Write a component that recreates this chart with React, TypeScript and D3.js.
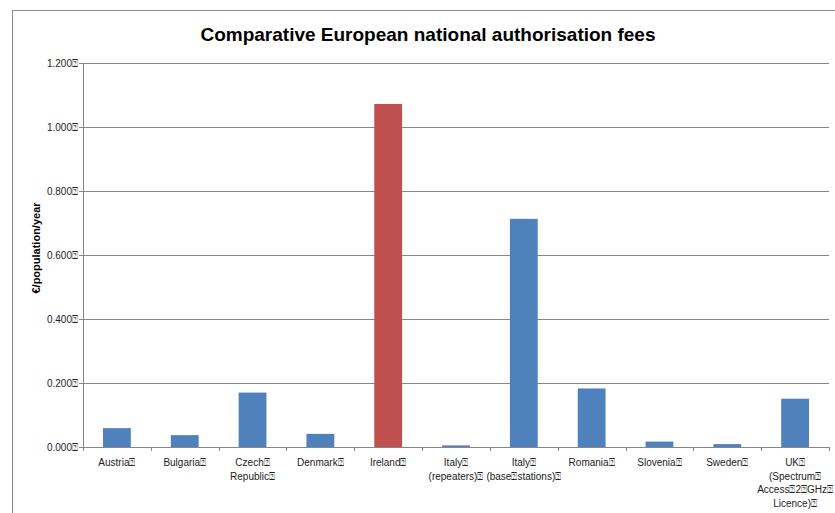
import React from "react";
import * as d3 from "d3";

const TOFU = "\u2370";

const categories: string[][] = [
  ["Austria" + TOFU],
  ["Bulgaria" + TOFU],
  ["Czech" + TOFU, "Republic" + TOFU],
  ["Denmark" + TOFU],
  ["Ireland" + TOFU],
  ["Italy" + TOFU, "(repeaters)" + TOFU],
  ["Italy" + TOFU, "(base" + TOFU + "stations)" + TOFU],
  ["Romania" + TOFU],
  ["Slovenia" + TOFU],
  ["Sweden" + TOFU],
  ["UK" + TOFU, "(Spectrum" + TOFU, "Access" + TOFU + "2" + TOFU + "GHz" + TOFU, "Licence)" + TOFU],
];
const values: number[] = [0.059, 0.037, 0.17, 0.041, 1.072, 0.005, 0.713, 0.183, 0.017, 0.009, 0.151];
const highlighted: boolean[] = [false, false, false, false, true, false, false, false, false, false, false];
const yTicks: number[] = [0, 0.2, 0.4, 0.6, 0.8, 1.0, 1.2];
const title = "Comparative European national authorisation fees";
const yTitle = "€/population/year";

const W = 835;
const H = 513;
const plot = { left: 83, right: 829, top: 63, bottom: 447 };

export default function App() {
  const keys = categories.map((_, i) => String(i));
  const x = d3.scaleBand<string>().domain(keys).range([plot.left, plot.right]).paddingInner(0.59).paddingOuter(0.295);
  const xb = d3.scaleBand<string>().domain(keys).range([plot.left, plot.right]);
  const y = d3.scaleLinear().domain([0, 1.2]).range([plot.bottom, plot.top]);
  const grid = "#878787";
  const font = "'Liberation Sans', Arial, sans-serif";
  const boundaries = d3.range(categories.length + 1).map((i) => plot.left + i * xb.step());

  return (
    <div style={{ position: "fixed", left: 0, top: 0, width: W, height: H, background: "#fff" }}>
      <svg width={W} height={H} style={{ display: "block" }}>
        <rect x={0} y={0} width={W} height={H} fill="#fff" />
        {/* outer frame */}
        <line x1={12.5} x2={12.5} y1={10} y2={H} stroke="#8c8c8c" strokeWidth={1} />
        <line x1={12.5} x2={W} y1={10.5} y2={10.5} stroke="#8c8c8c" strokeWidth={1} />
        <text x={428} y={41} textAnchor="middle" fontFamily={font} fontWeight="bold" fontSize={19} letterSpacing={0} fill="#000">
          {title}
        </text>
        {/* gridlines */}
        {yTicks.map((t) => (
          <g key={t}>
            <line x1={plot.left - 4} x2={plot.right} y1={Math.round(y(t)) + 0.5} y2={Math.round(y(t)) + 0.5} stroke={grid} strokeWidth={1} />
            <text x={78} y={y(t)} dy="0.35em" textAnchor="end" fontFamily={font} fontSize={10} fill="#222">
              {t.toFixed(3) + TOFU}
            </text>
          </g>
        ))}
        {/* y axis */}
        <line x1={plot.left + 0.5} x2={plot.left + 0.5} y1={plot.top} y2={plot.bottom} stroke={grid} strokeWidth={1} />
        {/* x ticks */}
        {boundaries.map((bx, i) => (
          <line key={i} x1={Math.round(bx) + 0.5} x2={Math.round(bx) + 0.5} y1={plot.bottom} y2={plot.bottom + 4} stroke={grid} strokeWidth={1} />
        ))}
        {/* bars */}
        {values.map((v, i) => (
          <rect
            key={i}
            x={x(String(i))}
            y={y(v)}
            width={x.bandwidth()}
            height={plot.bottom - y(v)}
            fill={highlighted[i] ? "#C0504D" : "#4F81BD"}
          />
        ))}
        {/* category labels */}
        {categories.map((lines, i) => (
          <text key={i} x={(xb(String(i)) as number) + xb.bandwidth() / 2} y={466} textAnchor="middle" fontFamily={font} fontSize={10} fill="#222">
            {lines.map((l, j) => (
              <tspan key={j} x={(xb(String(i)) as number) + xb.bandwidth() / 2} dy={j === 0 ? 0 : 13.6}>
                {l}
              </tspan>
            ))}
          </text>
        ))}
        {/* y title */}
        <text transform={`translate(40,248) rotate(-90)`} textAnchor="middle" fontFamily={font} fontWeight="bold" fontSize={11} fill="#000">
          {yTitle}
        </text>
      </svg>
    </div>
  );
}
